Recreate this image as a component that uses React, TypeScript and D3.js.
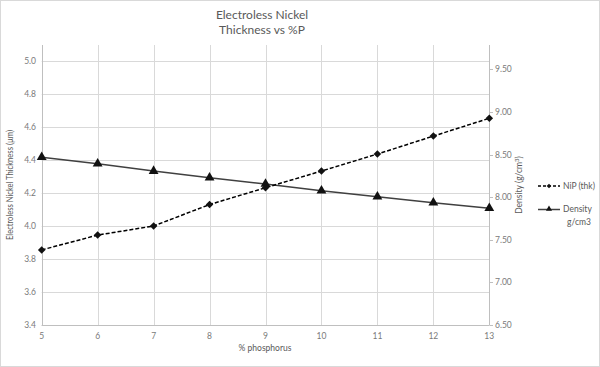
import React from "react";
import * as d3 from "d3";

const phosphorus = [5, 6, 7, 8, 9, 10, 11, 12, 13];
const thickness = [3.855, 3.945, 4.0, 4.13, 4.232, 4.333, 4.436, 4.545, 4.653];
const density = [8.47, 8.393, 8.307, 8.229, 8.155, 8.076, 8.006, 7.935, 7.87];
const leftTicks = [3.4, 3.6, 3.8, 4.0, 4.2, 4.4, 4.6, 4.8, 5.0];
const rightTicks = [6.5, 7.0, 7.5, 8.0, 8.5, 9.0, 9.5];
const xTicks = [5, 6, 7, 8, 9, 10, 11, 12, 13];

const W = 600;
const H = 367;
const FONT = "Lato, 'Open Sans', sans-serif";
const TXT = "#595959";
const TICK = "#7a7a7a";

export default function App() {
  const x = d3.scaleLinear().domain([5, 13]).range([41.7, 489.3]);
  const yL = d3.scaleLinear().domain([3.4, 5.0]).range([325, 61]);
  const yR = d3.scaleLinear().domain([6.5, 9.5]).range([325, 69.4]);
  const top = 45;
  const bottom = 325;

  const lineL = d3
    .line<number>()
    .x((_, i) => x(phosphorus[i]))
    .y((d) => yL(d));
  const lineR = d3
    .line<number>()
    .x((_, i) => x(phosphorus[i]))
    .y((d) => yR(d));

  const diamond = d3.symbol().type(d3.symbolDiamond2).size(36)();
  const triangle = d3.symbol().type(d3.symbolTriangle).size(42)();
  const diamondS = d3.symbol().type(d3.symbolDiamond2).size(14)();
  const triangleS = d3.symbol().type(d3.symbolTriangle).size(16)();

  return (
    <svg
      width={W}
      height={H}
      style={{ position: "absolute", left: 0, top: 0 }}
      fontFamily={FONT}
    >
      <rect x={0} y={0} width={W} height={H} fill="#fff" />
      <rect x={0.5} y={0.5} width={W - 1} height={H - 1} fill="none" stroke="#d9d9d9" />

      <text x={262} y={19} textAnchor="middle" fontSize={12} fill={TXT}>
        Electroless Nickel
      </text>
      <text x={262} y={34} textAnchor="middle" fontSize={12} fill={TXT}>
        Thickness vs %P
      </text>

      {leftTicks.map((t) => (
        <line
          key={"h" + t}
          x1={x(5)}
          x2={x(13)}
          y1={Math.round(yL(t)) + 0.5}
          y2={Math.round(yL(t)) + 0.5}
          stroke="#d9d9d9"
        />
      ))}
      {xTicks.map((t) => (
        <line
          key={"v" + t}
          x1={Math.round(x(t)) + 0.5}
          x2={Math.round(x(t)) + 0.5}
          y1={top}
          y2={bottom}
          stroke="#d9d9d9"
        />
      ))}
      <line x1={Math.round(x(5)) + 0.5} x2={Math.round(x(5)) + 0.5} y1={top} y2={bottom} stroke="#bfbfbf" />
      <line x1={Math.round(x(13)) + 0.5} x2={Math.round(x(13)) + 0.5} y1={top} y2={bottom} stroke="#bfbfbf" />
      <line x1={x(5)} x2={x(13)} y1={bottom + 0.5} y2={bottom + 0.5} stroke="#bfbfbf" />
      {rightTicks.map((t) => (
        <line
          key={"rt" + t}
          x1={Math.round(x(13)) + 0.5}
          x2={Math.round(x(13)) + 4}
          y1={Math.round(yR(t)) + 0.5}
          y2={Math.round(yR(t)) + 0.5}
          stroke="#bfbfbf"
        />
      ))}

      {leftTicks.map((t) => (
        <text key={"lt" + t} x={36} y={yL(t) + 3} textAnchor="end" fontSize={8.5} fill={TICK}>
          {t.toFixed(1)}
        </text>
      ))}
      {rightTicks.map((t) => (
        <text key={"rl" + t} x={495} y={yR(t) + 3} textAnchor="start" fontSize={8.5} fill={TICK}>
          {t.toFixed(2)}
        </text>
      ))}
      {xTicks.map((t) => (
        <text key={"xt" + t} x={x(t)} y={339} textAnchor="middle" fontSize={8.5} fill={TICK}>
          {t}
        </text>
      ))}

      <text x={265} y={351} textAnchor="middle" fontSize={8.5} fill={TXT}>
        % phosphorus
      </text>
      <text
        transform={`translate(13,185) rotate(-90)`}
        textAnchor="middle"
        fontSize={8.5}
        fill={TXT}
        textLength={110}
        lengthAdjust="spacingAndGlyphs"
      >
        Electroless Nickel Thickness (µm)
      </text>
      <text
        transform={`translate(522,185) rotate(-90)`}
        textAnchor="middle"
        fontSize={8.5}
        fill={TXT}
      >
        Density (g/cm<tspan dy={-3} fontSize={6}>3</tspan><tspan dy={3}>)</tspan>
      </text>

      <path d={lineR(density) || ""} fill="none" stroke="#404040" strokeWidth={1.5} />
      <path
        d={lineL(thickness) || ""}
        fill="none"
        stroke="#000"
        strokeWidth={1.5}
        strokeDasharray="4,2"
      />
      {density.map((d, i) => (
        <path
          key={"tr" + i}
          d={triangle || ""}
          transform={`translate(${x(phosphorus[i])},${yR(d)})`}
          fill="#111"
        />
      ))}
      {thickness.map((d, i) => (
        <path
          key={"di" + i}
          d={diamond || ""}
          transform={`translate(${x(phosphorus[i])},${yL(d)})`}
          fill="#111"
        />
      ))}

      <line x1={538} x2={560} y1={186} y2={186} stroke="#000" strokeWidth={1.5} strokeDasharray="3,2" />
      <path d={diamondS || ""} transform="translate(549,186)" fill="#111" />
      <text x={563} y={189} fontSize={8.5} fill={TXT}>
        NiP (thk)
      </text>
      <line x1={538} x2={560} y1={209.5} y2={209.5} stroke="#404040" strokeWidth={1.5} />
      <path d={triangleS || ""} transform="translate(549,209)" fill="#111" />
      <text x={563} y={212} fontSize={8.5} fill={TXT}>
        Density
      </text>
      <text x={567} y={224.5} fontSize={8.5} fill={TXT}>
        g/cm3
      </text>
    </svg>
  );
}
